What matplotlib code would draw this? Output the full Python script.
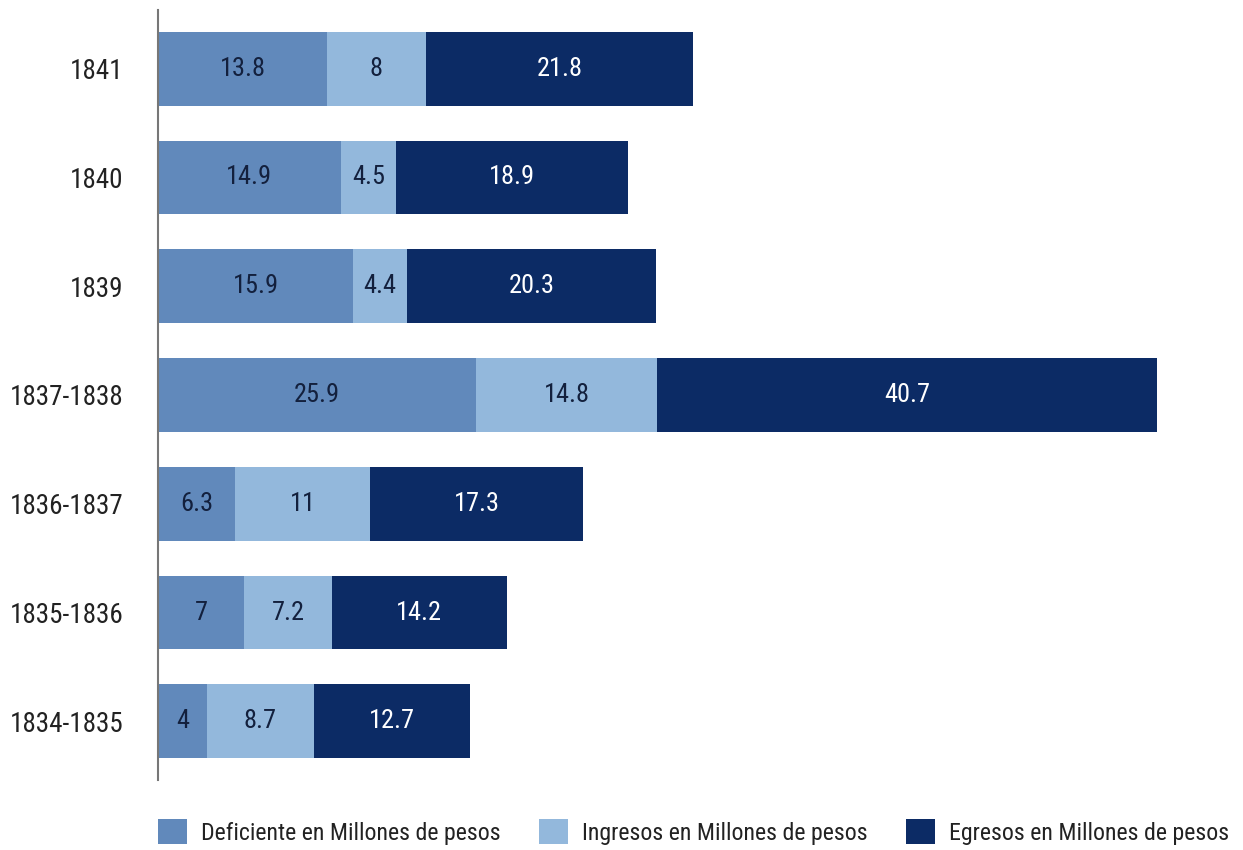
import matplotlib
matplotlib.use("Agg")
import matplotlib.pyplot as plt
from matplotlib import font_manager
from matplotlib.patches import Patch

names = {f.name for f in font_manager.fontManager.ttflist}
fam = [f for f in ["Liberation Sans Narrow", "Roboto Condensed", "Open Sans Condensed", "Liberation Sans", "DejaVu Sans"] if f in names]
plt.rcParams['font.family'] = fam

categories = ["1841", "1840", "1839", "1837-1838", "1836-1837", "1835-1836", "1834-1835"]
deficiente = [13.8, 14.9, 15.9, 25.9, 6.3, 7, 4]
ingresos = [8, 4.5, 4.4, 14.8, 11, 7.2, 8.7]
egresos = [21.8, 18.9, 20.3, 40.7, 17.3, 14.2, 12.7]
series_names = ["Deficiente en Millones de pesos", "Ingresos en Millones de pesos", "Egresos en Millones de pesos"]
colors = ["#6189bb", "#93b8dc", "#0c2b65"]
text_colors = ["#13203d", "#13203d", "white"]

W, H = 1243, 850
fig = plt.figure(figsize=(W/100, H/100), dpi=100)
ax_left = 158 / W
ax_top = 1 - 10 / H
ax_bottom = 1 - 780 / H
ax = fig.add_axes([ax_left, ax_bottom, 0.8886, ax_top - ax_bottom])

ypos = list(range(len(categories)))[::-1]
left = [0] * len(categories)
for vals, c, tc, nm in zip([deficiente, ingresos, egresos], colors, text_colors, series_names):
    bars = ax.barh(ypos, vals, left=left, height=0.68, color=c, label=nm)
    for b, v, l, y in zip(bars, vals, left, ypos):
        ax.text(l + v / 2, y, f"{v:g}", ha="center", va="center", color=tc, fontsize=19)
    left = [a + b for a, b in zip(left, vals)]

ax.set_xlim(0, 90)
ax.set_ylim(-0.54, len(categories) - 1 + 0.54)
ax.set_yticks(ypos)
ax.set_yticklabels(categories, fontsize=19.5, color="#222222")
ax.tick_params(axis="y", length=0, pad=25)
ax.set_xticks([])
for s in ["top", "right", "bottom"]:
    ax.spines[s].set_visible(False)
ax.spines["left"].set_color("#777777")
ax.spines["left"].set_linewidth(1.5)

handles = [Patch(facecolor=c) for c in colors]
fig.legend(handles, series_names, loc="center", bbox_to_anchor=(0.558, 1 - 832 / H),
           ncol=3, frameon=False, fontsize=17.2, handlelength=1.2, handleheight=1.2,
           handletextpad=0.6, columnspacing=1.6, labelcolor="#222222")

fig.savefig("out.png", dpi=100, facecolor="white")
